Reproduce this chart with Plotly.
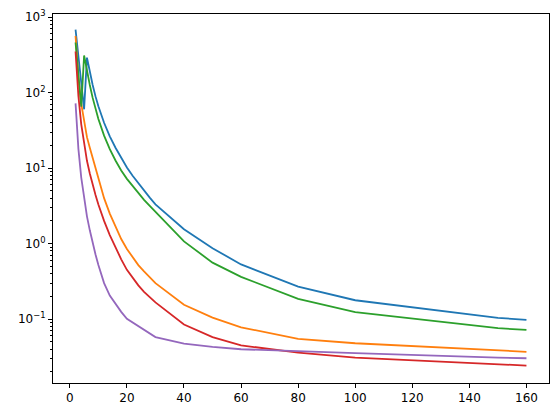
import plotly.graph_objects as go

# x positions for the first four series (denser between 20 and 30)
x_main = [2, 3, 4, 5, 6, 7, 8, 9, 10, 12, 14, 16, 18, 20, 22, 24, 26, 28, 30,
          40, 50, 60, 80, 100, 150, 160]
# x positions for the purple series
x_purple = [2, 3, 4, 5, 6, 7, 8, 9, 10, 12, 14, 16, 18, 20, 30, 40, 50, 60,
            80, 100, 150, 160]

s_blue = [680, 300, 135, 60, 290, 186, 126, 89, 66, 39.8, 26.3, 18.6, 13.5, 10.2,
          7.9, 6.3, 5.0, 4.07, 3.31, 1.55, 0.87, 0.53, 0.27, 0.178, 0.104, 0.098]
s_orange = [560, 158, 71, 40, 25.7, 18.6, 13.5, 10.0, 7.6, 4.0, 2.5, 1.66, 1.15, 0.85,
            0.66, 0.52, 0.43, 0.355, 0.30, 0.155, 0.105, 0.078, 0.055, 0.048, 0.038, 0.037]
s_green = [460, 175, 65, 310, 190, 126, 85, 60, 44.7, 26.9, 17.8, 12.6, 9.3, 7.2,
           5.75, 4.68, 3.8, 3.16, 2.63, 1.07, 0.56, 0.363, 0.186, 0.124, 0.076, 0.072]
s_red = [350, 90, 38, 20, 12.5, 8.5, 6.0, 4.4, 3.3, 2.0, 1.3, 0.88, 0.62, 0.45,
         0.35, 0.28, 0.23, 0.195, 0.167, 0.085, 0.058, 0.045, 0.036, 0.031, 0.0252, 0.0243]
s_purple = [72, 18, 7.5, 3.8, 2.3, 1.5, 1.0, 0.72, 0.52, 0.30, 0.205, 0.158, 0.125, 0.101,
            0.058, 0.0476, 0.043, 0.040, 0.0375, 0.0355, 0.031, 0.0304]

series = [(x_main, s_blue), (x_main, s_orange), (x_main, s_green),
          (x_main, s_red), (x_purple, s_purple)]
colors = ["#1f77b4", "#ff7f0e", "#2ca02c", "#d62728", "#9467bd"]

y_tickvals = [0.1, 1, 10, 100, 1000]
y_ticktext = ["10<sup>\u22121</sup>", "10<sup>0</sup>", "10<sup>1</sup>",
              "10<sup>2</sup>", "10<sup>3</sup>"]
y_minor = [k * 10.0 ** n for n in range(-2, 3) for k in range(2, 10)]
x_tickvals = [0, 20, 40, 60, 80, 100, 120, 140, 160]

fig = go.Figure()
for (xs, s), c in zip(series, colors):
    fig.add_trace(go.Scatter(x=xs, y=s, mode="lines",
                             line=dict(color=c, width=1.8), showlegend=False))

axis_common = dict(showline=True, linecolor="black", linewidth=1, mirror=True,
                   ticks="outside", tickcolor="black", ticklen=4, tickwidth=1,
                   showgrid=False, zeroline=False,
                   tickfont=dict(family="DejaVu Sans", size=12, color="black"))

fig.update_layout(
    width=558, height=417,
    margin=dict(l=53, r=9, t=14, b=34),
    paper_bgcolor="white", plot_bgcolor="white",
    xaxis=dict(range=[-5.9, 167.9], tickmode="array", tickvals=x_tickvals,
               **axis_common),
    yaxis=dict(type="log", range=[-1.845, 3.04], tickmode="array",
               tickvals=y_tickvals, ticktext=y_ticktext,
               minor=dict(tickmode="array", tickvals=y_minor, ticks="outside",
                          ticklen=2, tickcolor="black", tickwidth=0.8, showgrid=False),
               **axis_common),
)

fig.write_html("out.html")
